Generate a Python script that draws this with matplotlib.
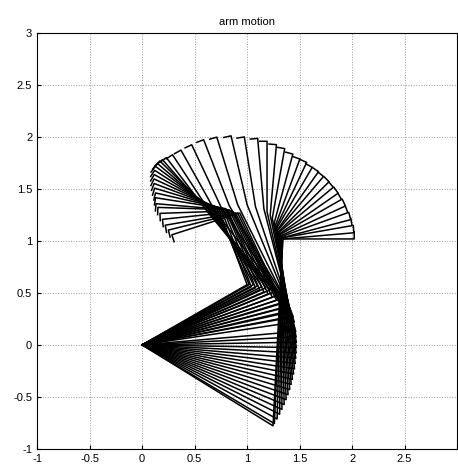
import numpy as np
import matplotlib
matplotlib.use("Agg")
import matplotlib.pyplot as plt

# arm poses, one entry per drawn frame
hand_len = 0.68      # wrist -> finger tip
elbow_x = [1.247, 1.260, 1.286, 1.310, 1.332, 1.353, 1.372, 1.390, 1.406, 1.420, 1.432, 1.443, 1.452, 1.459,
           1.464, 1.468, 1.470, 1.470, 1.468, 1.464,
           1.45, 1.44, 1.42, 1.40, 1.37, 1.34, 1.30, 1.26, 1.22, 1.18, 1.14, 1.10, 1.06, 1.02,
           1.00, 1.04, 1.08, 1.12, 1.16, 1.20,
           1.24, 1.28, 1.31, 1.34, 1.37, 1.40]
elbow_y = [-0.779, -0.757, -0.713, -0.667, -0.621, -0.574, -0.527, -0.479, -0.430, -0.380, -0.331, -0.280, -0.230, -0.179,
           -0.128, -0.077, -0.026, 0.026, 0.077, 0.128,
           0.22, 0.27, 0.32, 0.37, 0.41, 0.45, 0.48, 0.51, 0.53, 0.55, 0.56, 0.57, 0.58, 0.58,
           0.58, 0.56, 0.55, 0.53, 0.51, 0.49,
           0.46, 0.43, 0.40, 0.36, 0.32, 0.27]
wrist_x = [1.34, 1.34, 1.33, 1.33, 1.32, 1.32, 1.31, 1.31, 1.30, 1.30, 1.29, 1.29, 1.28, 1.28,
           1.27, 1.26, 1.24, 1.22, 1.19, 1.16,
           1.08, 1.00, 0.91, 0.83, 0.76, 0.70, 0.66, 0.64, 0.64, 0.65, 0.66, 0.67, 0.69, 0.71,
           0.73, 0.75, 0.77, 0.79, 0.80, 0.81,
           0.83, 0.85, 0.87, 0.89, 0.91, 0.93]
wrist_y = [1.02, 1.02, 1.03, 1.03, 1.04, 1.05, 1.06, 1.07, 1.08, 1.09, 1.10, 1.11, 1.12, 1.14,
           1.15, 1.18, 1.22, 1.25, 1.28, 1.31,
           1.33, 1.35, 1.35, 1.34, 1.31, 1.28, 1.26, 1.26, 1.27, 1.29, 1.30, 1.31, 1.31, 1.31,
           1.31, 1.31, 1.31, 1.31, 1.31, 1.30,
           1.30, 1.29, 1.28, 1.27, 1.27, 1.27]
hand_deg = [0, 5, 10, 15, 20, 25, 30, 35, 40, 45, 50, 55, 60, 65,
            70, 75, 80, 85, 90, 95,
            99, 103, 107, 111, 115, 119, 123, 127, 131, 135, 139, 143, 147, 151,
            155, 159, 163, 167, 171, 175,
            178, 182, 186, 190, 194, 198]

x_ticks = [-1, -0.5, 0, 0.5, 1, 1.5, 2, 2.5, 3]
x_labels = ['-1', '-0.5', '0', '0.5', '1', '1.5', '2', '2.5', '']
y_ticks = [-1, -0.5, 0, 0.5, 1, 1.5, 2, 2.5, 3]
y_labels = ['-1', '-0.5', '0', '0.5', '1', '1.5', '2', '2.5', '3']

plt.rcParams['font.family'] = ['Liberation Sans', 'DejaVu Sans']
fig = plt.figure(figsize=(4.58, 4.68), dpi=100)
ax = fig.add_axes([0.081, 0.041, 0.917, 0.888])

for ex, ey, wx, wy, q3 in zip(elbow_x, elbow_y, wrist_x, wrist_y, hand_deg):
    a3 = np.radians(q3)
    tx, ty = wx + hand_len * np.cos(a3), wy + hand_len * np.sin(a3)
    # little hook at the finger tip
    nx, ny = -np.sin(a3), np.cos(a3)
    bx, by = tx + 0.07 * nx, ty + 0.07 * ny
    ax.plot([0, ex, wx, tx, bx], [0, ey, wy, ty, by], color='black', lw=1.1)

ax.set_xlim(-1, 3)
ax.set_ylim(-1, 3)
ax.set_xticks(x_ticks)
ax.set_xticklabels(x_labels)
ax.set_yticks(y_ticks)
ax.set_yticklabels(y_labels)
ax.tick_params(direction='in', length=3, labelsize=8, colors='black')
ax.grid(True, linestyle=':', color='#999999', lw=0.7)
ax.set_title('arm motion', fontsize=8, pad=6)

fig.savefig('out.png', dpi=100)
